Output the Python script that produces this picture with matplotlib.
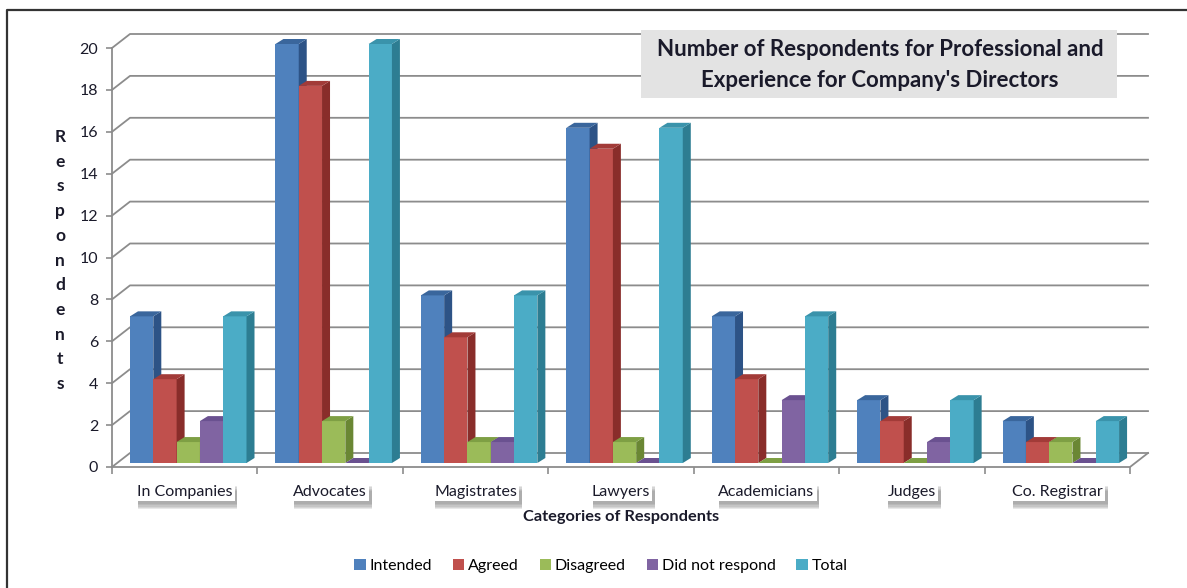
import matplotlib.pyplot as plt
from matplotlib.patches import Patch, Polygon, Rectangle
from matplotlib.lines import Line2D
import matplotlib.patheffects as pe

plt.rcParams['font.family'] = ['Lato', 'DejaVu Sans']

categories = ['In Companies', 'Advocates', 'Magistrates', 'Lawyers',
              'Academicians', 'Judges', 'Co. Registrar']
series = ['Intended', 'Agreed', 'Disagreed', 'Did not respond', 'Total']
intended = [7, 20, 8, 16, 7, 3, 2]
agreed = [4, 18, 6, 15, 4, 2, 1]
disagreed = [1, 2, 1, 1, 0, 0, 1]
no_response = [2, 0, 1, 0, 3, 1, 0]
total = [7, 20, 8, 16, 7, 3, 2]
yticks = list(range(0, 21, 2))

# front / side / top colours per series
face_colors = ['#4F81BD', '#C0504D', '#9BBB59', '#8064A2', '#4BACC6']
side_colors = ['#2D5386', '#892D2A', '#6A8734', '#57407A', '#2D7D92']
top_colors = ['#3A669C', '#A23B38', '#7E9F44', '#6A5190', '#3A93AB']

W, H = 1187, 588
fig = plt.figure(figsize=(W / 100, H / 100), dpi=100)

def fx(x):
    return x / W

def fy(y):
    return 1 - y / H

# axes placed so the front plane runs from x=112..1130 px and value 0 sits at y=467 px
PX_CAT = 1018 / 7
PX_VAL = 20.95
YMAX = 21.0
ax = fig.add_axes([fx(112), fy(467), 1018 / W, YMAX * PX_VAL / H])
ax.set_xlim(-0.5, 6.5)
ax.set_ylim(0, YMAX)
for s in ax.spines.values():
    s.set_visible(False)

# depth of the walls and of each column, converted to data units
WDX, WDY = 18 / PX_CAT, 14 / PX_VAL
BY0 = 4 / PX_VAL
BDX, BDY = 8 / PX_CAT, 5 / PX_VAL
GROUP_START = 18 / PX_CAT
BAR_W = 23.3 / PX_CAT

grid_kw = dict(color='#8c8c8c', lw=1.3, clip_on=False, zorder=1)
for v in yticks:
    ax.plot([-0.5, -0.5 + WDX, 6.5 + WDX], [v, v + WDY, v + WDY], **grid_kw)
# floor front edge, right edge and left axis
ax.plot([-0.5, 6.5, 6.5 + WDX], [0, 0, WDY], **grid_kw)
ax.plot([-0.5, -0.5], [0, 20], **grid_kw)

# boundary ticks along the floor
ax.set_xticks([i - 0.5 for i in range(8)], minor=True)
ax.tick_params(axis='x', which='minor', length=5, color='#8c8c8c', width=1.2)
ax.set_xticks(range(7))
ax.set_xticklabels(categories, fontsize=11.5, color='#1a1a2a')
ax.tick_params(axis='x', which='major', length=0, pad=13)
soft_shadow = [pe.withSimplePatchShadow(offset=(2, -d), shadow_rgbFace='#808080', alpha=0.18)
               for d in (2, 3, 4, 5, 6)]
for lab in ax.get_xticklabels():
    lab.set_bbox(dict(facecolor='white', edgecolor='none', pad=1.5))
    lab.get_bbox_patch().set_path_effects(soft_shadow + [pe.Normal()])

ax.set_yticks(yticks)
ax.set_yticklabels([str(v) for v in yticks], fontsize=11.5, color='#1a1a2a')
ax.tick_params(axis='y', length=4, color='#8c8c8c', width=1.2, pad=6)

data = [intended, agreed, disagreed, no_response, total]
z = 3
for i in range(len(categories)):
    for j, vals in enumerate(data):
        v = vals[i]
        x0 = i - 0.5 + GROUP_START + j * BAR_W
        x1 = x0 + BAR_W
        y0 = BY0
        y1 = BY0 + v
        ax.bar(x0, v, width=BAR_W, bottom=y0, align='edge',
               color=face_colors[j], edgecolor='none', zorder=z)
        ax.add_patch(Polygon([(x1, y0), (x1 + BDX, y0 + BDY), (x1 + BDX, y1 + BDY), (x1, y1)],
                             closed=True, facecolor=side_colors[j], edgecolor='none',
                             zorder=z, clip_on=False))
        ax.add_patch(Polygon([(x0, y1), (x0 + BDX, y1 + BDY), (x1 + BDX, y1 + BDY), (x1, y1)],
                             closed=True, facecolor=top_colors[j], edgecolor='none',
                             zorder=z, clip_on=False))
        z += 1

# vertical axis title, one letter per line
for k, ch in enumerate('Respondents'):
    fig.text(fx(60), fy(137 + k * 24.7), ch, ha='center', va='center',
             fontsize=12.5, fontweight='bold', color='#1a1a2a')

fig.text(fx(621), fy(517), 'Categories of Respondents', ha='center', va='center',
         fontsize=11.8, fontweight='bold', color='#1a1a2a')

# title panel
fig.add_artist(Rectangle((fx(641), fy(98)), fx(1117) - fx(641), fy(30) - fy(98),
                         transform=fig.transFigure, facecolor='#e3e3e3',
                         edgecolor='none', zorder=20))
fig.text(fx(880), fy(65),
         "Number of Respondents for Professional and\nExperience for Company's Directors",
         ha='center', va='center', fontsize=16, fontweight='bold', color='#1a1a2a',
         linespacing=1.55, zorder=21)

handles = [Patch(facecolor=c, edgecolor='none') for c in face_colors]
fig.legend(handles, series, loc='center', bbox_to_anchor=(fx(601), fy(566)), ncol=5,
           frameon=False, fontsize=11.5, handlelength=0.7, handleheight=0.7,
           handletextpad=0.25, columnspacing=1.3)

# outer chart border (left and top)
fig.add_artist(Line2D([fx(7), fx(7), 1.0], [0.0, fy(10), fy(10)],
                      transform=fig.transFigure, color='#333333', lw=1.6))

fig.savefig('out.png', dpi=100)
